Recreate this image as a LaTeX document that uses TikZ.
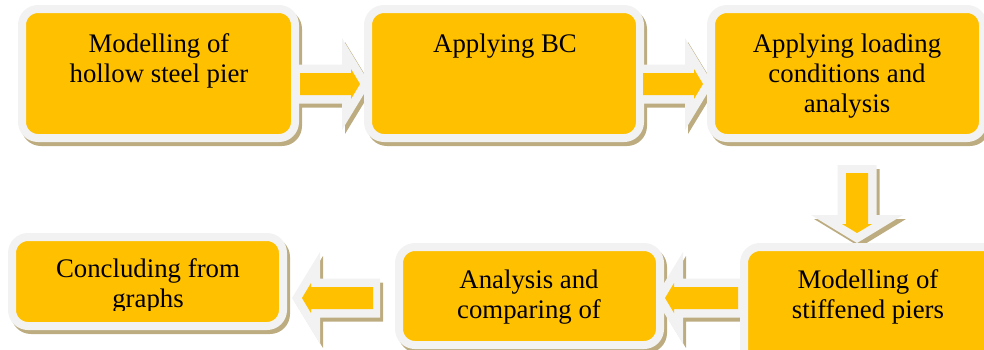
\documentclass[tikz,border=0pt]{standalone}
\usepackage{fontspec}
\setmainfont{Liberation Serif}
\usetikzlibrary{calc}
\definecolor{yelc}{RGB}{255,192,0}
\definecolor{grayc}{RGB}{242,242,242}
\definecolor{shadowc}{RGB}{188,172,128}
\pgfdeclarelayer{bg}\pgfdeclarelayer{mid}\pgfdeclarelayer{fg}
\pgfsetlayers{bg,mid,main,fg}
\tikzset{
  box/.style={draw=grayc, fill=yelc, line width=8pt, rounded corners=16pt, inner sep=0pt},
  txt/.style={align=center, font=\fontsize{26.8}{30}\selectfont, inner sep=0pt, anchor=base},
  shadowbox/.style={fill=shadowc, rounded corners=20pt},
  pics/bigarrow/.style 2 args={code={\fill[#1] (0,0) -- (-28,46) -- (-28,19.5) -- (-#2,19.5) -- (-#2,-19.5) -- (-28,-19.5) -- (-28,-46) -- cycle;}},
  pics/smallarrow/.style={code={\fill[yelc] (-10,0) -- (-19,15) -- (-19,11) -- (-#1,11) -- (-#1,-11) -- (-19,-11) -- (-19,-15) -- cycle;}},
}
\begin{document}
\begin{tikzpicture}[x=1pt,y=1pt]
\useasboundingbox (0,0) rectangle (984,-349);
% boxes
\node[box, minimum width=273pt, minimum height=129pt] (b1) at (158.5,-73.5) {};
\node[box, minimum width=272pt, minimum height=129pt] (b2) at (504,-73.5) {};
\node[box, minimum width=272pt, minimum height=129pt] (b3) at (847,-73.5) {};
\node[box, minimum width=271pt, minimum height=89pt] (b4) at (147.5,-281.5) {};
\node[box, minimum width=261pt, minimum height=98pt] (b5) at (529.5,-296) {};
\node[box, minimum width=272pt, minimum height=117pt] (b6) at (880,-305.5) {};
% arrow tips
\coordinate (p12) at ([shift={(6,-10.5)}]b2.west);
\coordinate (p23) at ([shift={(6,-10.5)}]b3.west);
\coordinate (p36) at ([shift={(-23,0)}]b6.north);
\coordinate (p65) at ([shift={(-9,-2)}]b5.east);
\coordinate (p54) at ([shift={(5,-16.5)}]b4.east);
% shadows
\begin{pgfonlayer}{bg}
  \foreach \b in {b1,b2,b3,b4,b5,b6}
    \fill[shadowbox] ([shift={(3,-4)}]\b.south west) rectangle ([shift={(3,-4)}]\b.north east);
  \pic at ([shift={(3,-4)}]p12) {bigarrow={shadowc}{75}};
  \pic at ([shift={(3,-4)}]p23) {bigarrow={shadowc}{75}};
  \pic[rotate=-90] at ([shift={(3,-4)}]p36) {bigarrow={shadowc}{78}};
  \pic[rotate=180] at ([shift={(3,-4)}]p65) {bigarrow={shadowc}{90}};
  \pic[rotate=180] at ([shift={(3,-4)}]p54) {bigarrow={shadowc}{88}};
\end{pgfonlayer}
% gray arrows
\begin{pgfonlayer}{mid}
  \pic at (p12) {bigarrow={grayc}{75}};
  \pic at (p23) {bigarrow={grayc}{75}};
  \pic[rotate=-90] at (p36) {bigarrow={grayc}{78}};
  \pic[rotate=180] at (p65) {bigarrow={grayc}{90}};
  \pic[rotate=180] at (p54) {bigarrow={grayc}{88}};
\end{pgfonlayer}
% yellow arrows
\begin{pgfonlayer}{fg}
  \pic at (p12) {smallarrow=70};
  \pic at (p23) {smallarrow=70};
  \pic[rotate=-90] at (p36) {smallarrow=70};
  \pic[rotate=180] at (p65) {smallarrow=83};
  \pic[rotate=180] at (p54) {smallarrow=81};
\end{pgfonlayer}
% texts (base anchor = baseline of the last line)
\node[txt] (t1) at (159,-82) {Modelling of\\hollow steel pier};
\node[txt] (t2) at (505,-52) {Applying BC};
\node[txt] (t3) at (847,-112) {Applying loading\\conditions and\\analysis};
\begin{scope}
  \clip (0,-233) rectangle (300,-310);
  \node[txt] (t4) at (148,-307) {Concluding from\\graphs};
\end{scope}
\node[txt] (t5) at (529,-318) {Analysis and\\comparing of};
\node[txt] (t6) at (868,-318) {Modelling of\\stiffened piers};
\end{tikzpicture}
\end{document}
